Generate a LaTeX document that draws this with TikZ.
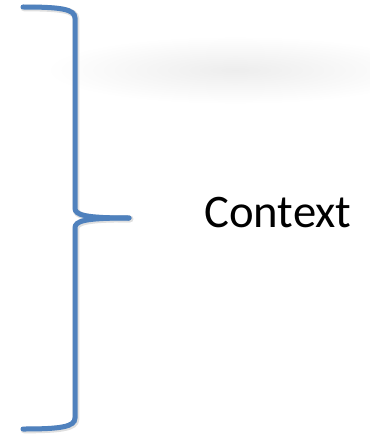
\documentclass[tikz,border=0pt]{standalone}
\usepackage{fontspec}
\setmainfont{Carlito}
\definecolor{braceblue}{RGB}{79,129,189}
\tikzset{every picture/.style={line width=0.75pt}}
\tikzset{
  brace/.style={draw=braceblue, line width=3.75pt, line cap=round},
  braceshadow/.style={draw=black!12, line width=5pt, line cap=round},
  label/.style={font=\fontsize{35}{40}\selectfont, inner sep=0pt}
}

\begin{document}
\begin{tikzpicture}[x=0.75pt,y=0.75pt,yscale=-1,xscale=1]
%set diagram left start at 0, and has height of 435
\useasboundingbox (0,0) rectangle (369,435);

%Shape: Blurred band [id:dp01]
\shade[inner color=black!7, outer color=white] (235,70) ellipse (190 and 34);

%Shape: Brace shadow [id:dp02]
\draw[braceshadow, shift={(1,1)}] (23,7) .. controls (60,7) and (75,9) .. (75,18) -- (75,208) .. controls (75,215) and (84,218) .. (129,218) ;
\draw[braceshadow, shift={(1,1)}] (129,218) .. controls (84,218) and (75,221) .. (75,228) -- (75,418) .. controls (75,427) and (60,429) .. (23,429) ;

%Shape: Brace [id:dp03]
\draw[brace] (23,7) .. controls (60,7) and (75,9) .. (75,18) -- (75,208) .. controls (75,215) and (84,218) .. (129,218) ;
\draw[brace] (129,218) .. controls (84,218) and (75,221) .. (75,228) -- (75,418) .. controls (75,427) and (60,429) .. (23,429) ;

% Text Node
\node[label, anchor=base] (context) at (278,227) {Context};

\end{tikzpicture}
\end{document}
